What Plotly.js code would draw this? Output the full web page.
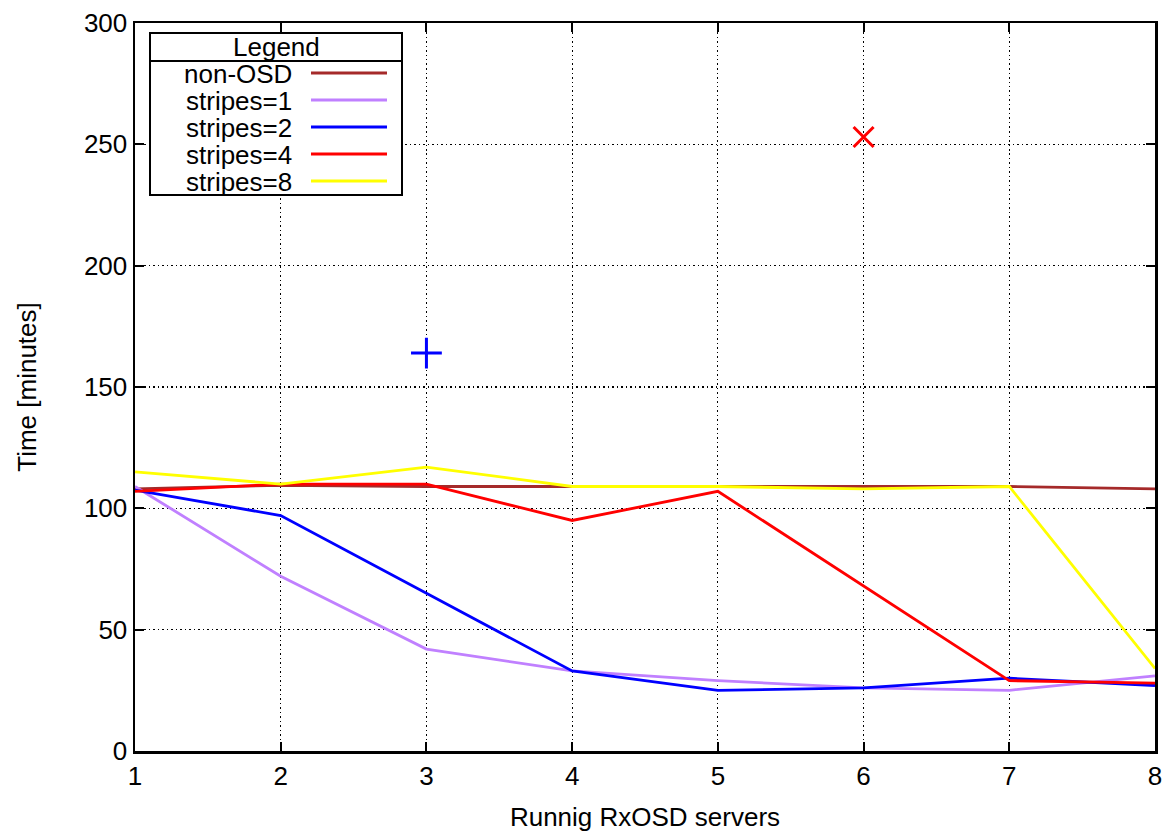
<!DOCTYPE html>
<html>
<head>
<meta charset="utf-8">
<script src="https://cdn.plot.ly/plotly-3.0.1.min.js"></script>
<style>html,body{margin:0;padding:0;background:#fff;}#chart{width:1168px;height:832px;}</style>
</head>
<body>
<div id="chart"></div>
<script>
// ---- data ----
const servers = [1, 2, 3, 4, 5, 6, 7, 8];
const seriesNames = ["non-OSD", "stripes=1", "stripes=2", "stripes=4", "stripes=8"];
const nonOSD   = [108, 109.5, 109, 109, 109, 109, 109, 108];
const stripes1 = [109, 72, 42, 33, 29, 26, 25, 31];
const stripes2 = [107.5, 97, 65, 33, 25, 26, 30, 27];
const stripes4 = [107, 110, 110, 95, 107, 68, 29, 28];
const stripes8 = [115, 110, 117, 109, 109, 108, 109, 34];
const extraBlueX = [3], extraBlueY = [164];
const extraRedX = [6], extraRedY = [253];
const xTicks = [1, 2, 3, 4, 5, 6, 7, 8];
const yTicks = [0, 50, 100, 150, 200, 250, 300];

const colors = ["#a52a2a", "#c080ff", "#0000ff", "#ff0000", "#ffff00"];
const values = [nonOSD, stripes1, stripes2, stripes4, stripes8];

const traces = values.map((v, i) => ({
  x: servers, y: v, type: "scatter", mode: "lines", name: seriesNames[i],
  line: {color: colors[i], width: 2.8}, showlegend: false
}));
traces.push({x: extraBlueX, y: extraBlueY, type: "scatter", mode: "markers", showlegend: false,
  marker: {symbol: "cross-thin", size: 22, line: {color: "#0000ff", width: 3}}});
traces.push({x: extraRedX, y: extraRedY, type: "scatter", mode: "markers", showlegend: false,
  marker: {symbol: "x-thin", size: 20, line: {color: "#ff0000", width: 3}}});

// plot area in pixels
const L = 135, R = 1155, T = 23, B = 751;
const px = x => (x - L) / (R - L);
const py = y => (B - y) / (B - T);

const font = {family: "Liberation Sans, Arial, sans-serif", size: 26, color: "#000"};

const shapes = [
  {type: "rect", xref: "paper", yref: "paper", x0: px(150), x1: px(402), y0: py(195), y1: py(33),
   line: {color: "#000", width: 2}, fillcolor: "#fff", layer: "above"},
  {type: "line", xref: "paper", yref: "paper", x0: px(150), x1: px(402), y0: py(61), y1: py(61),
   line: {color: "#000", width: 2}, layer: "above"}
];
const annotations = [
  {xref: "paper", yref: "paper", x: px(276), y: py(47), text: "Legend", showarrow: false,
   xanchor: "center", yanchor: "middle", font: font}
];
seriesNames.forEach((n, i) => {
  const yy = 74 + i * 27;
  annotations.push({xref: "paper", yref: "paper", x: px(294), y: py(yy), text: n, showarrow: false,
    xanchor: "right", yanchor: "middle", font: font});
  shapes.push({type: "line", xref: "paper", yref: "paper", x0: px(311), x1: px(387), y0: py(yy - 1), y1: py(yy - 1),
    line: {color: colors[i], width: 3}, layer: "above"});
});

const axisCommon = {
  showline: true, linecolor: "#000", linewidth: 2.5, mirror: "allticks",
  ticks: "inside", ticklen: 9, tickwidth: 2, tickcolor: "#000",
  showgrid: true, gridcolor: "#000", gridwidth: 1.2, griddash: "1.5px,3px",
  zeroline: false, tickfont: font
};

const layout = {
  width: 1168, height: 832,
  margin: {l: L, r: 1168 - R, t: T, b: 832 - B},
  paper_bgcolor: "#fff", plot_bgcolor: "#fff",
  showlegend: false,
  font: font,
  xaxis: Object.assign({}, axisCommon, {
    range: [1, 8], tickvals: xTicks, ticktext: xTicks.map(String),
    title: {text: "Runnig RxOSD servers", font: font, standoff: 22}
  }),
  yaxis: Object.assign({}, axisCommon, {
    range: [0, 300], tickvals: yTicks, ticktext: yTicks.map(String),
    title: {text: "Time [minutes]", font: font, standoff: 40}
  }),
  shapes: shapes,
  annotations: annotations
};

Plotly.newPlot("chart", traces, layout, {displayModeBar: false, staticPlot: true});
</script>
</body>
</html>
